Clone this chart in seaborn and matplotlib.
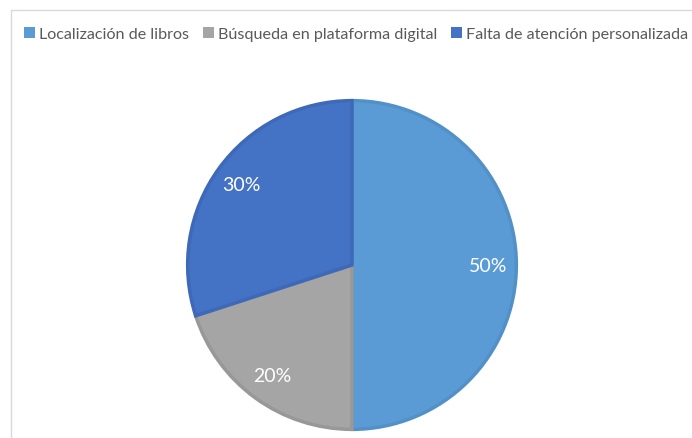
import matplotlib
matplotlib.use("Agg")
import matplotlib.pyplot as plt
from matplotlib.lines import Line2D
import seaborn as sns

# datos del gráfico
categorias = ["Localización de libros", "Búsqueda en plataforma digital", "Falta de atención personalizada"]
valores = [50, 20, 30]
colores = ["#5B9BD5", "#A5A5A5", "#4472C4"]
bordes = ["#5290C8", "#989898", "#3E69B8"]

sns.set_theme(style="white")
plt.rcParams["font.family"] = ["Lato", "DejaVu Sans"]

W, H = 692, 439
fig = plt.figure(figsize=(W / 100, H / 100), dpi=100)
fig.patch.set_facecolor("white")

# ejes del pie: centro y radio en pixeles
cx, cy, r = 352, 266, 166
ax = fig.add_axes([(cx - r) / W, (H - cy - r) / H, 2 * r / W, 2 * r / H])

paleta = sns.color_palette(colores)
wedges, textos, autotextos = ax.pie(
    valores,
    colors=paleta,
    startangle=90,
    counterclock=False,
    autopct="%1.0f%%",
    pctdistance=0.83,
    wedgeprops=dict(linewidth=2.5),
    textprops=dict(color="white", fontsize=14),
)
for w, b in zip(wedges, bordes):
    w.set_edgecolor(b)
ax.set_xlim(-1.01, 1.01)
ax.set_ylim(-1.01, 1.01)
ax.set_aspect("equal")
ax.axis("off")

# leyenda arriba
leg = fig.legend(
    wedges, categorias,
    loc="center", bbox_to_anchor=(356 / W, 1 - 35 / H),
    ncol=3, frameon=False, fontsize=11.6,
    handlelength=0.7, handleheight=0.7, handletextpad=0.25,
    columnspacing=0.85, borderaxespad=0,
)
for t in leg.get_texts():
    t.set_color("#595959")
for h in leg.legend_handles:
    h.set_linewidth(0)

# borde del área del gráfico (recortado)
fig.add_artist(Line2D([11 / W, 11 / W], [0, 1 - 11 / H], transform=fig.transFigure, color="#D9D9D9", lw=1))
fig.add_artist(Line2D([11 / W, 1], [1 - 11 / H, 1 - 11 / H], transform=fig.transFigure, color="#D9D9D9", lw=1))

fig.savefig("out.png", dpi=100)
